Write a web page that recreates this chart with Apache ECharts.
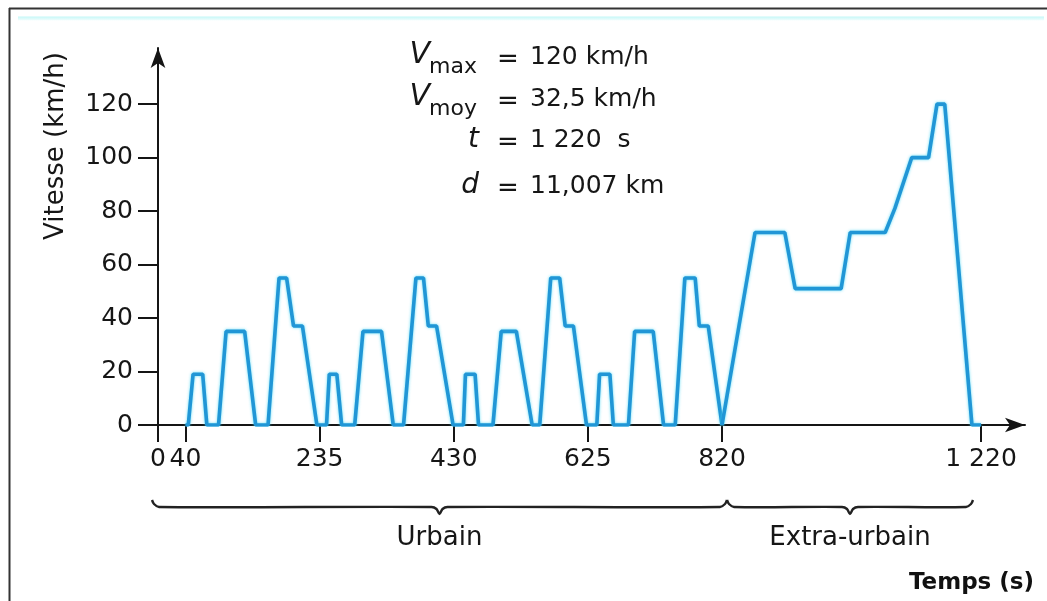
<!DOCTYPE html>
<html>
<head>
<meta charset="utf-8">
<script src="https://cdn.jsdelivr.net/npm/echarts@6/dist/echarts.min.js"></script>
<style>
html,body{margin:0;padding:0;background:#fff;}
#c{width:1047px;height:601px;}
</style>
</head>
<body>
<div id="c"></div>
<script>
// ---- data (time in s, speed in km/h) ----
const urbanTime  = [40,44,51,65,71,88,99,126,142,160,176,187,197,210,231,
                    245,249,260,267,286,298,325,342,357,375,386,393,405,429,
                    444,447,461,466,487,499,521,544,555,571,584,592,604,623,
                    638,642,657,662,684,693,720,735,752,766,781,787,800,820];
const urbanSpeed = [0,0,19,19,0,0,35,35,0,0,55,55,37,37,0,
                    0,19,19,0,0,35,35,0,0,55,55,37,37,0,
                    0,19,19,0,0,35,35,0,0,55,55,37,37,0,
                    0,19,19,0,0,35,35,0,0,55,55,37,37,0];
const extraTime  = [820,871,917,933,1004,1018,1072,1087,1113,1139,1152,1164,1206,1220];
const extraSpeed = [0,72,72,51,51,72,72,81,100,100,120,120,0,0];

const xTickValuesUrban = [0,40,235,430,625,820];
const xTickValuesExtra = [1220];
const xTickLabels = {0:'0',40:'40',235:'235',430:'430',625:'625',820:'820',1220:'1 220'};
const yTickValues = [0,20,40,60,80,100,120];

const segments = [
  {name:'Urbain', from:0, to:820},
  {name:'Extra-urbain', from:820, to:1220}
];
const infoLines = [
  {sym:'V', sub:'max', val:'120 km/h'},
  {sym:'V', sub:'moy', val:'32,5 km/h'},
  {sym:'t', sub:'', val:'1 220  s'},
  {sym:'d', sub:'', val:'11,007 km'}
];

const zip = (a,b)=>a.map((v,i)=>[v,b[i]]);
const FONT = 'DejaVu Sans';
const TXT = '#161616';
const AX = '#151515';

const chart = echarts.init(document.getElementById('c'), null, {renderer:'canvas'});

const lineStyle = {color:'#2196d6', width:3.6, shadowColor:'rgba(70,215,245,0.85)', shadowBlur:3};

const option = {
  animation:false,
  backgroundColor:'#fff',
  grid:[
    {left:158, top:48, width:564, height:377},
    {left:722, top:48, width:303, height:377}
  ],
  xAxis:[
    {gridIndex:0, type:'value', min:0, max:820,
     axisLine:{show:true, onZero:false, lineStyle:{color:AX, width:2}},
     axisTick:{show:true, customValues:xTickValuesUrban, length:17, lineStyle:{color:AX, width:2}},
     axisLabel:{show:true, customValues:xTickValuesUrban, margin:22, fontFamily:FONT, fontSize:25, color:TXT,
       formatter:v=>xTickLabels[v]},
     splitLine:{show:false}},
    {gridIndex:1, type:'value', min:820, max:820+303/0.6475,
     axisLine:{show:true, onZero:false, lineStyle:{color:AX, width:2}, symbol:['none','arrow'], symbolSize:[11,20]},
     axisTick:{show:true, customValues:xTickValuesExtra, length:17, lineStyle:{color:AX, width:2}},
     axisLabel:{show:true, customValues:xTickValuesExtra, margin:22, fontFamily:FONT, fontSize:25, color:TXT,
       formatter:v=>xTickLabels[v]},
     splitLine:{show:false}}
  ],
  yAxis:[
    {gridIndex:0, type:'value', min:0, max:141,
     axisLine:{show:true, onZero:false, lineStyle:{color:AX, width:2}, symbol:['none','arrow'], symbolSize:[11,20]},
     axisTick:{show:true, customValues:yTickValues, length:20, lineStyle:{color:AX, width:2}},
     axisLabel:{show:true, customValues:yTickValues, margin:25, fontFamily:FONT, fontSize:25, color:TXT},
     splitLine:{show:false}},
    {gridIndex:1, type:'value', min:0, max:141, show:false}
  ],
  series:[
    {type:'line', xAxisIndex:0, yAxisIndex:0, data:zip(urbanTime,urbanSpeed), symbol:'none', lineStyle:lineStyle, z:3},
    {type:'line', xAxisIndex:1, yAxisIndex:1, data:zip(extraTime,extraSpeed), symbol:'none', lineStyle:lineStyle, z:3}
  ]
};
chart.setOption(option);

// ---- annotations ----
const g = [];
// frame
g.push({type:'line', shape:{x1:9, y1:8.5, x2:1047, y2:8.5}, style:{stroke:'#333', lineWidth:2}});
g.push({type:'line', shape:{x1:9.5, y1:8, x2:9.5, y2:601}, style:{stroke:'#333', lineWidth:2}});
g.push({type:'rect', shape:{x:18, y:16.5, width:1026, height:4},
  style:{fill:new echarts.graphic.LinearGradient(0,0,0,1,[{offset:0,color:'#c4f7f7'},{offset:1,color:'#f4fefe'}])}});

// y axis title
g.push({type:'text', x:56, y:146, rotation:Math.PI/2,
  style:{text:'Vitesse (km/h)', fontFamily:FONT, fontSize:26, fill:TXT, align:'center', verticalAlign:'middle'}});

// info block
const infoY = [57, 99, 140, 186];
infoLines.forEach((ln,i)=>{
  const y = infoY[i];
  if (ln.sub) {
    g.push({type:'text', x:430, y:y-2, style:{text:ln.sym, fontFamily:FONT, fontStyle:'italic', fontSize:30, fill:TXT, align:'right', verticalAlign:'middle'}});
    g.push({type:'text', x:429, y:y+10, style:{text:ln.sub, fontFamily:FONT, fontSize:22, fill:TXT, align:'left', verticalAlign:'middle'}});
  } else {
    g.push({type:'text', x:479, y:y, style:{text:ln.sym, fontFamily:FONT, fontStyle:'italic', fontSize:28, fill:TXT, align:'right', verticalAlign:'middle'}});
  }
  g.push({type:'text', x:508, y:y+3, style:{text:'=', fontFamily:FONT, fontSize:26, fill:TXT, align:'center', verticalAlign:'middle'}});
  g.push({type:'text', x:530, y:y, style:{text:ln.val, fontFamily:FONT, fontSize:25, fill:TXT, align:'left', verticalAlign:'middle'}});
});

// braces for segments
const by = 507;
const px = (t)=> t<=820 ? chart.convertToPixel({xAxisIndex:0}, t) : chart.convertToPixel({xAxisIndex:1}, t);
segments.forEach((s,i)=>{
  const a = (i===0 ? px(s.from)-6 : px(s.from)+5);
  const b = (i===0 ? px(s.to)+5 : px(s.to)-8);
  const m = (a+b)/2;
  const pts = [[a,by-7],[a+2,by-3],[a+7,by],
               [m-8,by],[m-3,by+2],[m,by+7],[m+3,by+2],[m+8,by],
               [b-7,by],[b-2,by-3],[b,by-7]];
  g.push({type:'polyline', shape:{points:pts, smooth:0.3}, style:{stroke:'#222', lineWidth:2.4, fill:null}});
  g.push({type:'text', x:m, y:538, style:{text:s.name, fontFamily:FONT, fontSize:26, fill:TXT, align:'center', verticalAlign:'middle'}});
});

g.push({type:'text', x:1034, y:583, style:{text:'Temps (s)', fontFamily:FONT, fontWeight:'bold', fontSize:23, fill:'#111', align:'right', verticalAlign:'middle'}});

chart.setOption({graphic:g});
</script>
</body>
</html>
